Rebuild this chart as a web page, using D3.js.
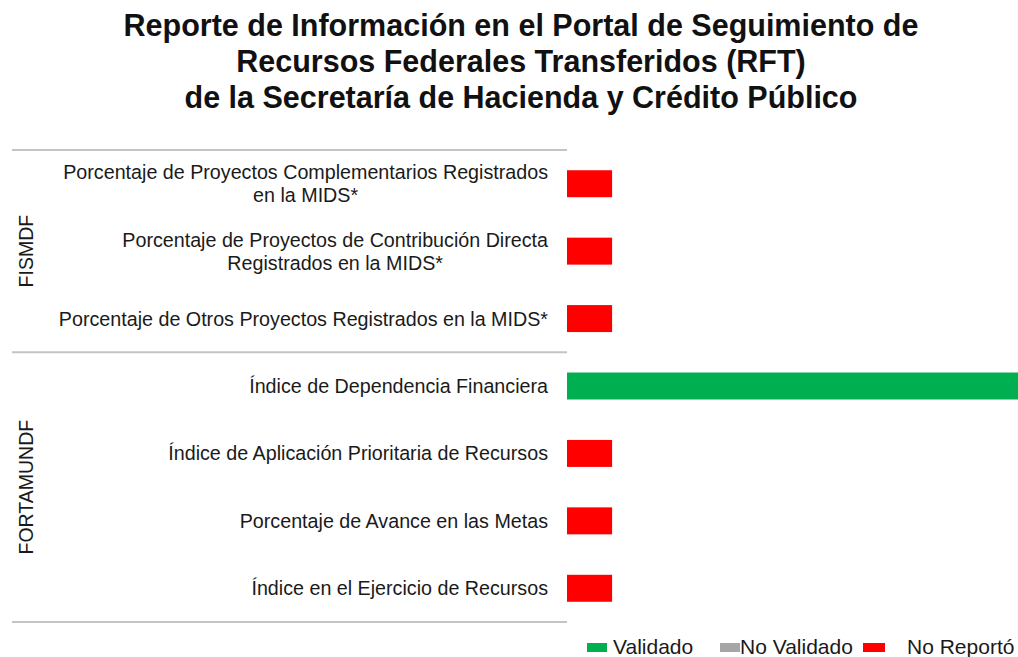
<!DOCTYPE html>
<html>
<head>
<meta charset="utf-8">
<script src="https://cdn.jsdelivr.net/npm/d3@7"></script>
<style>
  body { margin: 0; background: #fff; }
  svg { display: block; font-family: "Liberation Sans", Arial, sans-serif; }
</style>
</head>
<body>
<svg id="chart"></svg>
<script>
const titleLines = [
    'Reporte de Información en el Portal de Seguimiento de',
    'Recursos Federales Transferidos (RFT)',
    'de la Secretaría de Hacienda y Crédito Público'
];

const categories = [
    'Porcentaje de Proyectos Complementarios Registrados\nen la MIDS*',
    'Porcentaje de Proyectos de Contribución Directa\nRegistrados en la MIDS*',
    'Porcentaje de Otros Proyectos Registrados en la MIDS*',
    'Índice de Dependencia Financiera',
    'Índice de Aplicación Prioritaria de Recursos',
    'Porcentaje de Avance en las Metas',
    'Índice en el Ejercicio de Recursos'
];
const groups = ['FISMDF', 'FISMDF', 'FISMDF', 'FORTAMUNDF', 'FORTAMUNDF', 'FORTAMUNDF', 'FORTAMUNDF'];

const seriesNames = ['Validado', 'No Validado', 'No Reportó'];
const validado = [0, 0, 0, 10, 0, 0, 0];
const noValidado = [0, 0, 0, 0, 0, 0, 0];
const noReporto = [1, 1, 1, 0, 1, 1, 1];
const seriesColors = ['#00b050', '#a6a6a6', '#ff0000'];

const W = 1018, H = 657;
const svg = d3.select('#chart').attr('width', W).attr('height', H);

// Title
svg.append('g').selectAll('text')
    .data(titleLines)
    .enter()
    .append('text')
    .attr('x', 521)
    .attr('y', (d, i) => 36 + i * 36)
    .attr('text-anchor', 'middle')
    .attr('font-size', '30.5px')
    .attr('font-weight', 'bold')
    .attr('fill', '#111')
    .text(d => d);

const rows = categories.map((c, i) => ({
    cat: c, group: groups[i],
    'Validado': validado[i], 'No Validado': noValidado[i], 'No Reportó': noReporto[i]
}));

const yScale = d3.scaleBand()
    .domain(categories)
    .range([150, 622])
    .paddingInner(0.6)
    .paddingOuter(0.3);

const xScale = d3.scaleLinear()
    .domain([0, 10])
    .range([567, 1018]);

const color = d3.scaleOrdinal().domain(seriesNames).range(seriesColors);
const stacked = d3.stack().keys(seriesNames)(rows);

// Bars
svg.append('g').selectAll('g')
    .data(stacked)
    .enter()
    .append('g')
    .attr('fill', d => color(d.key))
    .selectAll('rect')
    .data(d => d)
    .enter()
    .append('rect')
    .attr('x', d => xScale(d[0]))
    .attr('y', d => yScale(d.data.cat))
    .attr('width', d => xScale(d[1]) - xScale(d[0]))
    .attr('height', yScale.bandwidth());

// Category labels (multi-line labels are centered as a block, right aligned)
const labelX = 548;
const labelG = svg.append('g')
    .attr('font-size', '19.7px')
    .attr('fill', '#1a1a1a');

categories.forEach(c => {
    const lines = c.split('\n');
    const cy = yScale(c) + yScale.bandwidth() / 2;
    const t = labelG.append('text').attr('text-anchor', 'middle');
    lines.forEach((line, j) => {
        t.append('tspan')
            .attr('y', cy + 7 + (j - (lines.length - 1) / 2) * 23)
            .text(line);
    });
    const maxW = d3.max(t.selectAll('tspan').nodes(), n => n.getComputedTextLength());
    t.selectAll('tspan').attr('x', labelX - maxW / 2);
});

// Group separators and group labels
const step = yScale.step();
const groupNames = Array.from(new Set(groups));
const bounds = groupNames.map(g => {
    const cats = categories.filter((c, i) => groups[i] === g);
    const top = yScale(cats[0]) - step * yScale.paddingInner() / 2;
    const bottom = yScale(cats[cats.length - 1]) + yScale.bandwidth() + step * yScale.paddingInner() / 2;
    return { g, top, bottom };
});
bounds[0].top = yScale.range()[0];
bounds[bounds.length - 1].bottom = yScale.range()[1];

const sepYs = [bounds[0].top].concat(bounds.map(b => b.bottom));
svg.append('g').selectAll('line')
    .data(sepYs)
    .enter()
    .append('line')
    .attr('x1', 12)
    .attr('x2', 567)
    .attr('y1', d => d)
    .attr('y2', d => d)
    .attr('stroke', '#c4c4c4')
    .attr('stroke-width', 2);

svg.append('g').selectAll('text')
    .data(bounds)
    .enter()
    .append('text')
    .attr('transform', d => `translate(33,${(d.top + d.bottom) / 2}) rotate(-90)`)
    .attr('text-anchor', 'middle')
    .attr('font-size', '19.5px')
    .attr('fill', '#1a1a1a')
    .text(d => d.g);

// Legend
const legendX = [587, 720, 863];
const textOffset = [26, 20, 44];
const legend = svg.append('g').selectAll('g')
    .data(seriesNames)
    .enter()
    .append('g')
    .attr('transform', (d, i) => `translate(${legendX[i]},0)`);

legend.append('rect')
    .attr('y', 643)
    .attr('width', (d, i) => i === 2 ? 22 : 20)
    .attr('height', 9)
    .attr('fill', d => color(d));

legend.append('text')
    .attr('x', (d, i) => textOffset[i])
    .attr('y', 654)
    .attr('font-size', '21px')
    .attr('fill', '#1a1a1a')
    .text(d => d);
</script>
</body>
</html>
